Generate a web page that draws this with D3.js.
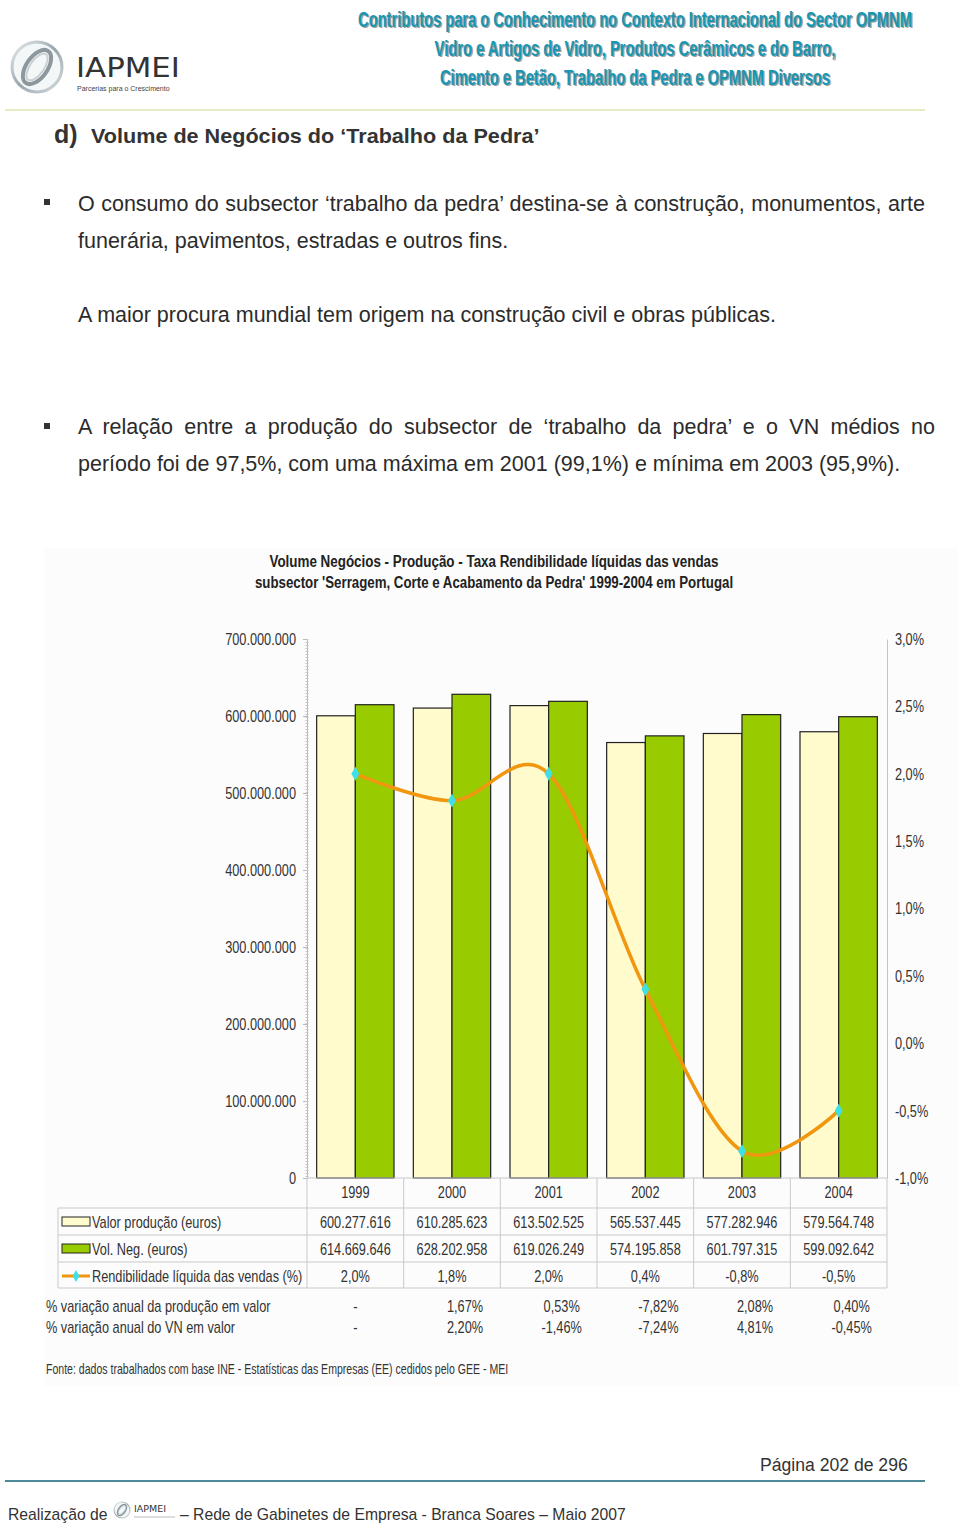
<!DOCTYPE html>
<html><head><meta charset="utf-8">
<script src="https://cdn.jsdelivr.net/npm/d3@7"></script>
<style>
html,body{margin:0;padding:0;background:#fff;}
svg{display:block;}
text{font-family:"Liberation Sans",Arial,sans-serif;}
</style></head>
<body>
<svg id="chart" width="960" height="1524"></svg>
<script>
// ---------- DATA ----------
const years = ["1999","2000","2001","2002","2003","2004"];
const valorProducao = [600277616, 610285623, 613502525, 565537445, 577282946, 579564748];
const volNeg = [614669646, 628202958, 619026249, 574195858, 601797315, 599092642];
const rendibilidade = [2.0, 1.8, 2.0, 0.4, -0.8, -0.5];
const varProducao = ["-", "1,67%", "0,53%", "-7,82%", "2,08%", "0,40%"];
const varVN = ["-", "2,20%", "-1,46%", "-7,24%", "4,81%", "-0,45%"];
const leftTicks = [0, 100000000, 200000000, 300000000, 400000000, 500000000, 600000000, 700000000];
const rightTicks = [-1.0, -0.5, 0.0, 0.5, 1.0, 1.5, 2.0, 2.5, 3.0];
const seriesNames = ["Valor produção (euros)", "Vol. Neg. (euros)", "Rendibilidade líquida das vendas (%)"];
const varNames = ["% variação anual da produção em valor", "% variação anual do VN em valor"];

const pt = d3.formatLocale({decimal:",", thousands:".", grouping:[3], currency:["","€"], minus:"-"});
const fmtInt = pt.format(",d");
const fmtPct1 = v => pt.format(".1f")(v) + "%";

const svg = d3.select("#chart");
const C_CREAM = "#FFFBCC", C_GREEN = "#99CC00", C_LINE = "#F0960F", C_MARK = "#3EE0E8";
const NARROW = 0.75, FS = 17;

// squeeze a text horizontally around its anchor x (emulates Arial Narrow)
function squeeze(sel, s){
  sel.each(function(){
    const t = d3.select(this);
    const xx = +(t.attr("x") || 0);
    t.attr("transform", `translate(${xx},0) scale(${s},1) translate(${-xx},0)`);
  });
}
function fitWidth(el, target){
  const w = el.node().getComputedTextLength();
  squeeze(el, target / w);
}

// ---------- PAGE HEADER ----------
const page = svg.append("g");
const defs = svg.append("defs");
const rg = defs.append("linearGradient").attr("id","ring").attr("x1","0").attr("y1","0").attr("x2","1").attr("y2","1");
rg.append("stop").attr("offset","0").attr("stop-color","#e8eef0");
rg.append("stop").attr("offset","0.5").attr("stop-color","#9aa6ad");
rg.append("stop").attr("offset","1").attr("stop-color","#d5dde0");

function logo(g, cx, cy, r, s){
  g.append("circle").attr("cx",cx).attr("cy",cy).attr("r",r).attr("fill","#f4f7f8").attr("stroke","url(#ring)").attr("stroke-width",3*s);
  g.append("ellipse").attr("cx",cx).attr("cy",cy).attr("rx",r*0.42).attr("ry",r*0.78)
    .attr("transform",`rotate(35 ${cx} ${cy})`).attr("fill","none").attr("stroke","#8d989e").attr("stroke-width",4*s);
  g.append("ellipse").attr("cx",cx).attr("cy",cy).attr("rx",r*0.28).attr("ry",r*0.62)
    .attr("transform",`rotate(35 ${cx} ${cy})`).attr("fill","none").attr("stroke","#c9d1d5").attr("stroke-width",2*s);
}
logo(page, 37, 67, 25, 1);
const iap = page.append("text").attr("x",76).attr("y",77).attr("font-size",27).attr("fill","#333")
  .style("font-family","'DejaVu Sans',sans-serif").text("IAPMEI");
fitWidth(iap, 104);
page.append("text").attr("x",77).attr("y",91).attr("font-size",7).attr("fill","#444").text("Parcerias para o Crescimento");

const headLines = ["Contributos para o Conhecimento no Contexto Internacional do Sector OPMNM",
  "Vidro e Artigos de Vidro, Produtos Cerâmicos e do Barro,",
  "Cimento e Betão, Trabalho da Pedra e OPMNM Diversos"];
const headW = [554, 401, 390];
headLines.forEach((t,i)=>{
  const y = 27 + i*29;
  const sh = page.append("text").attr("x",636.5).attr("y",y+1.5).attr("text-anchor","middle")
    .attr("font-size",22).attr("font-weight","bold").attr("fill","#a0a0a0").text(t);
  fitWidth(sh, headW[i]);
  const tx = page.append("text").attr("x",635).attr("y",y).attr("text-anchor","middle")
    .attr("font-size",22).attr("font-weight","bold").attr("fill","#1896b2").text(t);
  fitWidth(tx, headW[i]);
});
page.append("line").attr("x1",5).attr("x2",925).attr("y1",110).attr("y2",110).attr("stroke","#e6ebc4").attr("stroke-width",2);

// ---------- HEADING + BODY ----------
page.append("text").attr("x",54).attr("y",143).attr("font-size",25).attr("font-weight","bold").attr("fill","#333").text("d)");
const hd = page.append("text").attr("x",91).attr("y",143).attr("font-size",20.5).attr("font-weight","bold").attr("fill","#333")
  .text("Volume de Negócios do ‘Trabalho da Pedra’");
fitWidth(hd, 449);

function bodyLine(t, x, y, justifyTo){
  const el = page.append("text").attr("x",x).attr("y",y).attr("font-size",21.5).attr("fill","#2b2b2b").text(t);
  if (justifyTo){
    const w = el.node().getComputedTextLength();
    const gaps = (t.match(/ /g)||[]).length;
    if (gaps>0) el.attr("word-spacing", (justifyTo - x - w)/gaps);
  }
  return el;
}
page.append("rect").attr("x",44).attr("y",199).attr("width",6).attr("height",6).attr("fill","#333");
bodyLine("O consumo do subsector ‘trabalho da pedra’ destina-se à construção, monumentos, arte", 78, 211, 925);
bodyLine("funerária, pavimentos, estradas e outros fins.", 78, 248);
bodyLine("A maior procura mundial tem origem na construção civil e obras públicas.", 78, 322);
page.append("rect").attr("x",44).attr("y",423).attr("width",6).attr("height",6).attr("fill","#333");
bodyLine("A relação entre a produção do subsector de ‘trabalho da pedra’ e o VN médios no", 78, 434, 935);
bodyLine("período foi de 97,5%, com uma máxima em 2001 (99,1%) e mínima em 2003 (95,9%).", 78, 471);

// ---------- CHART ----------
const ch = svg.append("g");
ch.append("rect").attr("x",44).attr("y",548).attr("width",914).attr("height",838).attr("fill","#fcfcfc");

const t1 = ch.append("text").attr("x",494).attr("y",567).attr("text-anchor","middle").attr("font-size",17).attr("font-weight","bold").attr("fill","#222")
  .text("Volume Negócios - Produção - Taxa Rendibilidade líquidas das vendas");
const t2 = ch.append("text").attr("x",494).attr("y",588).attr("text-anchor","middle").attr("font-size",17).attr("font-weight","bold").attr("fill","#222")
  .text("subsector 'Serragem, Corte e Acabamento da Pedra' 1999-2004 em Portugal");

const plotL = 307, plotR = 887, plotT = 639, plotB = 1178;
const x = d3.scaleBand().domain(years).range([plotL, plotR]).paddingInner(0.2).paddingOuter(0.1);
const xCol = d3.scaleBand().domain(years).range([plotL, plotR]).padding(0);
const xSub = d3.scaleBand().domain(["prod","vn"]).range([0, x.bandwidth()]);
const yL = d3.scaleLinear().domain([0, 700000000]).range([plotB, plotT]);
const yR = d3.scaleLinear().domain([-1.0, 3.0]).range([plotB, plotT]);

// left axis
const axL = ch.append("g").attr("transform",`translate(${plotL},0)`)
  .call(d3.axisLeft(yL).tickValues(leftTicks).tickSize(4).tickPadding(7).tickFormat(d => d===0 ? "0" : fmtInt(d)));
axL.select(".domain").attr("stroke","#b8b8b8");
axL.selectAll(".tick line").attr("stroke","#b8b8b8");
axL.selectAll(".tick text").attr("font-size",FS).attr("fill","#333");
axL.attr("font-family",null);
ch.append("line").attr("x1",plotL).attr("x2",plotL).attr("y1",plotT).attr("y2",plotB)
  .attr("stroke","#c4c4c4").attr("stroke-width",3).attr("stroke-dasharray","1,2");

// right axis
const axR = ch.append("g").attr("transform",`translate(${plotR},0)`)
  .call(d3.axisRight(yR).tickValues(rightTicks).tickSize(0).tickPadding(8).tickFormat(fmtPct1));
axR.select(".domain").attr("stroke","#c4c4c4");
axR.selectAll(".tick text").attr("font-size",FS).attr("fill","#333");
axR.attr("font-family",null);

// bars
const grp = ch.append("g").selectAll("g").data(years).join("g").attr("transform", d => `translate(${x(d)},0)`);
grp.append("rect").attr("x", xSub("prod")).attr("width", xSub.bandwidth())
  .attr("y", (d,i) => yL(valorProducao[i])).attr("height", (d,i) => yL(0) - yL(valorProducao[i]))
  .attr("fill", C_CREAM).attr("stroke","#222").attr("stroke-width",1.2);
grp.append("rect").attr("x", xSub("vn")).attr("width", xSub.bandwidth())
  .attr("y", (d,i) => yL(volNeg[i])).attr("height", (d,i) => yL(0) - yL(volNeg[i]))
  .attr("fill", C_GREEN).attr("stroke","#222").attr("stroke-width",1.2);

// line
const cx = d => x(d) + x.bandwidth()/2;
const line = d3.line().x((d,i) => cx(years[i])).y(d => yR(d)).curve(d3.curveCatmullRom.alpha(0));
ch.append("path").datum(rendibilidade).attr("d", line).attr("fill","none").attr("stroke",C_LINE).attr("stroke-width",3.5);
ch.append("g").selectAll("path").data(rendibilidade).join("path")
  .attr("d", d3.symbol(d3.symbolDiamond, 55))
  .attr("transform", (d,i) => `translate(${cx(years[i])},${yR(d)})`).attr("fill", C_MARK);

// table
const tbl = ch.append("g");
const gridC = "#c9c9c9";
const rowY = [1208, 1235, 1262, 1288];
xCol.domain().forEach(y => {
  tbl.append("line").attr("x1", xCol(y)).attr("x2", xCol(y)).attr("y1", plotB).attr("y2", rowY[3]).attr("stroke", gridC);
});
tbl.append("line").attr("x1", plotR).attr("x2", plotR).attr("y1", plotB).attr("y2", rowY[3]).attr("stroke", gridC);
tbl.append("line").attr("x1", plotL).attr("x2", plotR).attr("y1", plotB).attr("y2", plotB).attr("stroke", gridC);
tbl.append("line").attr("x1", 58).attr("x2", 58).attr("y1", rowY[0]).attr("y2", rowY[3]).attr("stroke", gridC);
rowY.forEach(yy => tbl.append("line").attr("x1",58).attr("x2",plotR).attr("y1",yy).attr("y2",yy).attr("stroke",gridC));

const colC = d => xCol(d) + xCol.bandwidth()/2;
tbl.selectAll("text.yr").data(years).join("text").attr("class","yr").attr("x", colC).attr("y", 1198)
  .attr("text-anchor","middle").attr("font-size",FS).attr("fill","#333").text(d => d);
const rows = [valorProducao.map(fmtInt), volNeg.map(fmtInt), rendibilidade.map(fmtPct1)];
rows.forEach((r, ri) => {
  tbl.selectAll(null).data(r).join("text").attr("x", (d,i) => colC(years[i])).attr("y", rowY[ri] + 20)
    .attr("text-anchor","middle").attr("font-size",FS).attr("fill","#333").text(d => d);
  tbl.append("text").attr("x", 92).attr("y", rowY[ri] + 20).attr("font-size",FS).attr("fill","#333").text(seriesNames[ri]);
});
// legend keys
tbl.append("rect").attr("x",62).attr("y",1217).attr("width",28).attr("height",9).attr("fill",C_CREAM).attr("stroke","#222");
tbl.append("rect").attr("x",62).attr("y",1244).attr("width",28).attr("height",9).attr("fill",C_GREEN).attr("stroke","#222");
tbl.append("line").attr("x1",62).attr("x2",90).attr("y1",1276).attr("y2",1276).attr("stroke",C_LINE).attr("stroke-width",3);
tbl.append("path").attr("d", d3.symbol(d3.symbolDiamond, 40)).attr("transform","translate(76,1276)").attr("fill",C_MARK);

// variation rows
[varProducao, varVN].forEach((r, ri) => {
  const yy = 1312 + ri*21;
  ch.append("text").attr("x",46).attr("y",yy).attr("font-size",FS).attr("fill","#333").text(varNames[ri]);
  ch.selectAll(null).data(r).join("text").attr("x", (d,i) => colC(years[i]) + (i===0 ? 0 : 13)).attr("y", yy)
    .attr("text-anchor","middle").attr("font-size",FS).attr("fill","#333").text(d => d);
});
const src = ch.append("text").attr("x",46).attr("y",1374).attr("font-size",14).attr("fill","#333")
  .text("Fonte: dados trabalhados com base INE - Estatísticas das Empresas (EE) cedidos pelo GEE - MEI");

// emulate narrow font for all chart texts
squeeze(ch.selectAll("text"), NARROW);
fitWidth(t1, 449);
fitWidth(t2, 478);
fitWidth(src, 462);

// ---------- FOOTER ----------
page.append("text").attr("x",760).attr("y",1471).attr("font-size",17.6).attr("fill","#333").text("Página 202 de 296");
page.append("line").attr("x1",5).attr("x2",925).attr("y1",1481).attr("y2",1481).attr("stroke","#4d8a98").attr("stroke-width",2);
page.append("text").attr("x",8).attr("y",1520).attr("font-size",15.7).attr("fill","#333").text("Realização de");
logo(page, 122, 1510, 8, 0.4);
page.append("text").attr("x",134).attr("y",1512).attr("font-size",9.5).attr("fill","#333").style("font-family","'DejaVu Sans',sans-serif").text("IAPMEI");
page.append("line").attr("x1",134).attr("x2",175).attr("y1",1517).attr("y2",1517).attr("stroke","#bbb").attr("stroke-width",1);
page.append("text").attr("x",180).attr("y",1520).attr("font-size",15.7).attr("fill","#333").text("– Rede de Gabinetes de Empresa - Branca Soares – Maio 2007");
</script>
</body></html>
